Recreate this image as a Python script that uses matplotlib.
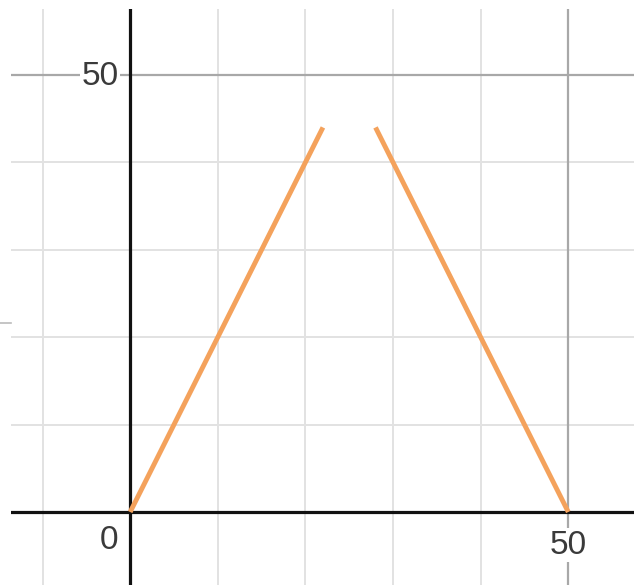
import matplotlib
matplotlib.use('Agg')
import matplotlib.pyplot as plt
from matplotlib.lines import Line2D

# two rising / falling segments
left_x = [0, 22]
left_y = [0, 44]
right_x = [28, 50]
right_y = [44, 0]

grid_ticks = [-10, 10, 20, 30, 40]
major_ticks = [50]
x_labels = ['0', '50']
y_labels = ['50']

fig = plt.figure(figsize=(6.34, 5.85), dpi=100)
ax = fig.add_axes([11 / 634, 0, 623 / 634, 576 / 585])
ax.set_xlim(-13.6, 57.5)
ax.set_ylim(-8.35, 57.55)
for s in ax.spines.values():
    s.set_visible(False)
ax.set_xticks([])
ax.set_yticks([])

# light grid every 10, darker at 50
for t in grid_ticks:
    ax.axvline(t, color='#e2e2e2', lw=1.4, zorder=0)
    ax.axhline(t, color='#e2e2e2', lw=1.4, zorder=0)
for t in major_ticks:
    ax.axvline(t, color='#a8a8a8', lw=1.6, zorder=1)
    ax.axhline(t, color='#a8a8a8', lw=1.6, zorder=1)

# axes
ax.axhline(0, color='#111111', lw=2.3, zorder=2)
ax.axvline(0, color='#111111', lw=2.3, zorder=2)

ax.plot(left_x, left_y, color='#f4a25c', lw=3.5, solid_capstyle='butt', zorder=3)
ax.plot(right_x, right_y, color='#f4a25c', lw=3.5, solid_capstyle='butt', zorder=3)

font = dict(family='Liberation Sans', size=24, color='#3a3a3a')
box = dict(facecolor='white', edgecolor='none', pad=1)
ax.text(-1.3, 49.8, y_labels[0], ha='right', va='center', bbox=box, zorder=4, **font)
ax.text(-1.4, -3.3, x_labels[0], ha='right', va='center', zorder=4, **font)
ax.text(50, -3.8, x_labels[1], ha='center', va='center', bbox=box, zorder=4, **font)

# small stray tick outside the plot on the left
fig.add_artist(Line2D([0, 11 / 634], [1 - 323 / 585, 1 - 323 / 585],
                      color='#bbbbbb', lw=1.2))

fig.savefig('out.png', dpi=100)
